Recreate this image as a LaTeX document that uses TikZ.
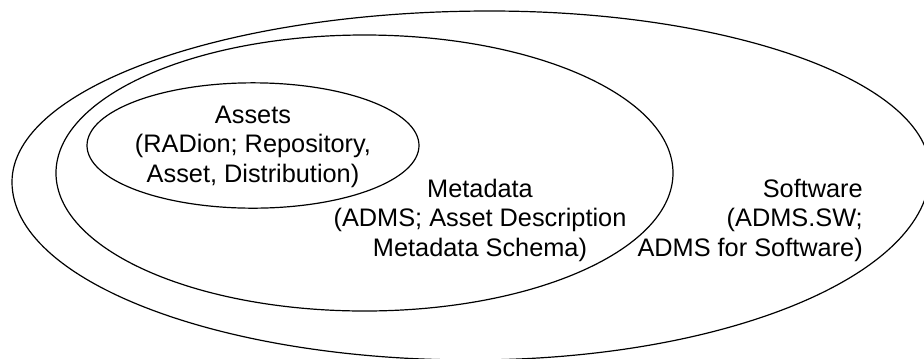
\documentclass[tikz,border=0pt]{standalone}
\usepackage{fontspec}
\setmainfont{Liberation Sans}
\usetikzlibrary{shapes.geometric}
\begin{document}
\begin{tikzpicture}[x=0.75pt,y=-0.75pt,
  ring/.style={draw=black,line width=0.9pt},
  oval/.style={ring,ellipse,inner sep=0pt,outer sep=0pt},
  lbl/.style={inner sep=0pt,font=\fontsize{19pt}{22pt}\selectfont}]
\useasboundingbox (0,0) rectangle (924,358);
\clip (0,0) rectangle (924,358);
% outer (Software) region
\coordinate (oL) at (12,182);
\coordinate (oT) at (490,11);
\coordinate (oR) at (930,171);
\coordinate (oB) at (471,360);
\draw[ring] (oL) .. controls (12,87.6) and (226,11) .. (oT)
  .. controls (733,11) and (930,82.6) .. (oR)
  .. controls (930,275.4) and (724.5,360) .. (oB)
  .. controls (217.5,360) and (12,280.3) .. cycle;
% middle (Metadata)
\node[oval,minimum width=462.75pt,minimum height=207pt] (meta) at (364.5,173) {};
% inner (Assets)
\node[oval,minimum width=249pt,minimum height=94pt] (assets) at (253,145.5) {};
% labels (base anchor = baseline of last line)
\node[lbl,align=center,anchor=base] (tA) at (253,182) {Assets\\(RADion; Repository,\\Asset, Distribution)};
\node[lbl,align=center,anchor=base] (tM) at (480,256) {Metadata\\(ADMS; Asset Description\\Metadata Schema)};
\node[lbl,align=right,anchor=base east] (tS) at (863,256) {Software\\(ADMS.SW;\\ADMS for Software)};
\end{tikzpicture}
\end{document}
